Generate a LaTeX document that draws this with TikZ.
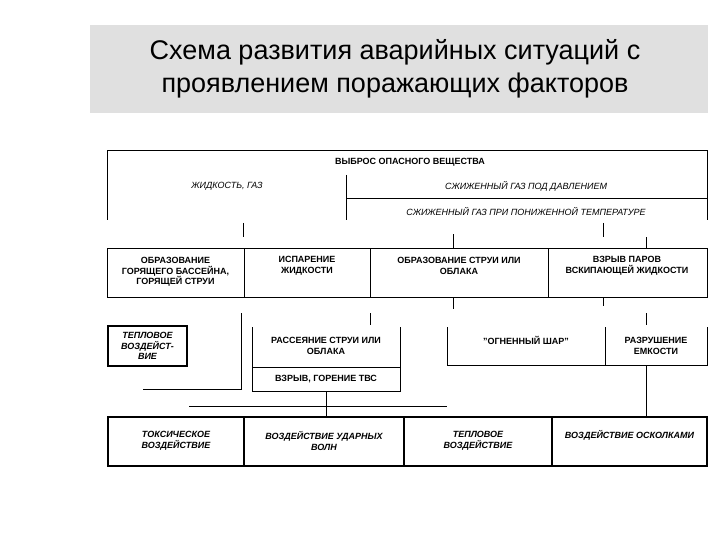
\documentclass[tikz,border=0pt]{standalone}
\usepackage{fontspec}
\setmainfont{Liberation Sans}
\begin{document}
\begin{tikzpicture}[x=1pt,y=-1pt,
  ln/.style={line width=0.8pt},
  thk/.style={line width=2pt},
  lab/.style={font=\fontsize{9}{10.5}\selectfont\bfseries,align=center,inner sep=0},
  ilab/.style={font=\fontsize{9}{10.5}\selectfont\bfseries\itshape,align=center,inner sep=0},
  slab/.style={font=\fontsize{9}{10.5}\selectfont\itshape,align=center,inner sep=0}]
\useasboundingbox (0,0) rectangle (720,540);
\fill[black!12] (90,25) rectangle (708,113);
\node[font=\fontsize{27}{33}\selectfont,align=center] (title) at (395,69) {Схема развития аварийных ситуаций с\\проявлением поражающих факторов};
% top box
\draw[ln] (107,220) -- (107,150) -- (707,150) -- (707,220);
\draw[ln] (346,175) -- (346,220);
\draw[ln] (346,198) -- (707,198);
\node[lab] (vyb) at (410,162) {ВЫБРОС ОПАСНОГО ВЕЩЕСТВА};
\node[slab] (zh) at (227,186) {ЖИДКОСТЬ, ГАЗ};
\node[slab] (sg1) at (526,186) {СЖИЖЕННЫЙ ГАЗ ПОД ДАВЛЕНИЕМ};
\node[slab] (sg2) at (526,211) {СЖИЖЕННЫЙ ГАЗ ПРИ ПОНИЖЕННОЙ ТЕМПЕРАТУРЕ};
% ticks
\draw[ln] (243,223)--(243,237) (453,234)--(453,248) (603,223)--(603,237) (646,237)--(646,248);
% row2
\draw[ln] (107,248) rectangle (707,297);
\draw[ln] (244,248)--(244,297) (370,248)--(370,297) (548,248)--(548,297);
\node[lab] (r21) at (175.5,272) {ОБРАЗОВАНИЕ\\ГОРЯЩЕГО БАССЕЙНА,\\ГОРЯЩЕЙ СТРУИ};
\node[lab] (r22) at (307,266) {ИСПАРЕНИЕ\\ЖИДКОСТИ};
\node[lab] (r23) at (459,266) {ОБРАЗОВАНИЕ СТРУИ ИЛИ\\ОБЛАКА};
\node[lab] (r24) at (627,266) {ВЗРЫВ ПАРОВ\\ВСКИПАЮЩЕЙ ЖИДКОСТИ};
\draw[ln] (453,297)--(453,309) (603,297)--(603,306);
% left part
\draw[thk] (108,326) rectangle (187,366);
\node[ilab] (tv1) at (147.5,346) {ТЕПЛОВОЕ\\ВОЗДЕЙСТ-\\ВИЕ};
\draw[ln] (241,313)--(241,389)--(143,389);
\draw[ln] (370,313)--(370,325);
\draw[ln] (252,327)--(252,391)--(400,391)--(400,327);
\draw[ln] (252,367)--(400,367);
\node[lab] (ras) at (326,346) {РАССЕЯНИЕ СТРУИ ИЛИ\\ОБЛАКА};
\node[lab] (vzr) at (326,379) {ВЗРЫВ, ГОРЕНИЕ  ТВС};
\draw[ln] (189,406)--(447,406);
\draw[ln] (326,391)--(326,417);
% right part
\draw[ln] (447,327)--(447,365)--(707,365)--(707,327);
\draw[ln] (605,327)--(605,365);
\draw[ln] (646,313)--(646,325);
\node[lab] (og) at (526,340) {"ОГНЕННЫЙ ШАР"};
\node[lab] (raz) at (656,346) {РАЗРУШЕНИЕ\\ЕМКОСТИ};
\draw[ln] (646,365)--(646,417);
% row3
\draw[thk] (108,417) rectangle (707,466);
\draw[thk] (244,417)--(244,466) (404,417)--(404,466) (552,417)--(552,466);
\node[ilab] (t1) at (176,441) {ТОКСИЧЕСКОЕ\\ВОЗДЕЙСТВИЕ};
\node[ilab] (t2) at (324,441) {ВОЗДЕЙСТВИЕ УДАРНЫХ\\ВОЛН};
\node[ilab] (t3) at (478,441) {ТЕПЛОВОЕ\\ВОЗДЕЙСТВИЕ};
\node[ilab] (t4) at (629.5,435) {ВОЗДЕЙСТВИЕ ОСКОЛКАМИ};
\end{tikzpicture}
\end{document}
